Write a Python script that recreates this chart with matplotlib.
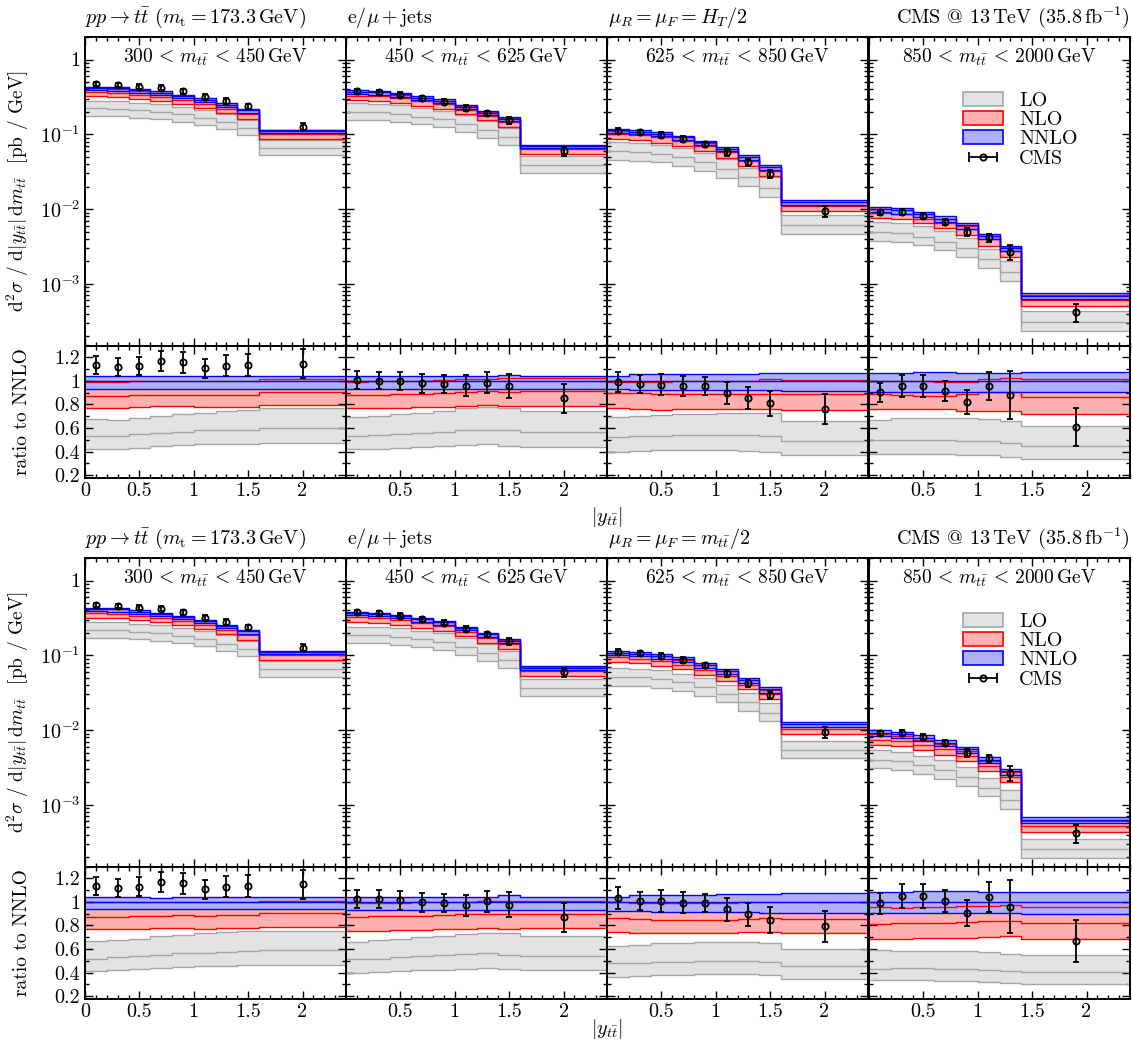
import numpy as np
import matplotlib

matplotlib.use("Agg")
import matplotlib.pyplot as plt
from matplotlib.lines import Line2D
from matplotlib.patches import Patch
from matplotlib.legend_handler import HandlerLine2D, HandlerTuple
from matplotlib.ticker import FixedLocator, MultipleLocator, LogLocator, NullFormatter, FuncFormatter

plt.rcParams.update({
    "font.family": "serif",
    "font.serif": ["cmr10", "DejaVu Serif"],
    "mathtext.fontset": "cm",
    "axes.formatter.use_mathtext": True,
    "font.size": 14.5,
    "axes.unicode_minus": False,
})
FS = 14.5

# ---- binning / data -------------------------------------------------------
EDGES = [
    [0, 0.2, 0.4, 0.6, 0.8, 1.0, 1.2, 1.4, 1.6, 2.4],
    [0, 0.2, 0.4, 0.6, 0.8, 1.0, 1.2, 1.4, 1.6, 2.4],
    [0, 0.2, 0.4, 0.6, 0.8, 1.0, 1.2, 1.4, 1.6, 2.4],
    [0, 0.2, 0.4, 0.6, 0.8, 1.0, 1.2, 1.4, 2.4],
]
CMS_Y = [
    [0.1, 0.3, 0.5, 0.7, 0.9, 1.1, 1.3, 1.5, 2.0],
    [0.1, 0.3, 0.5, 0.7, 0.9, 1.1, 1.3, 1.5, 2.0],
    [0.1, 0.3, 0.5, 0.7, 0.9, 1.1, 1.3, 1.5, 2.0],
    [0.1, 0.3, 0.5, 0.7, 0.9, 1.1, 1.3, 1.9],
]
MTT_BINS = [(300, 450), (450, 625), (625, 850), (850, 2000)]

# CMS measurement [pb/GeV] and relative uncertainty
CMS_XSEC = [
    [0.473, 0.459, 0.435, 0.418, 0.376, 0.320, 0.280, 0.237, 0.127],
    [0.376, 0.365, 0.340, 0.303, 0.274, 0.225, 0.191, 0.153, 0.0592],
    [0.112, 0.106, 0.099, 0.0875, 0.0743, 0.0574, 0.0422, 0.0295, 0.00952],
    [0.00904, 0.00923, 0.00816, 0.00678, 0.00498, 0.00418, 0.00269, 0.000423],
]
CMS_RELERR = [
    [0.068, 0.068, 0.069, 0.075, 0.075, 0.072, 0.079, 0.080, 0.108],
    [0.074, 0.075, 0.078, 0.081, 0.080, 0.092, 0.089, 0.109, 0.144],
    [0.089, 0.076, 0.091, 0.089, 0.078, 0.105, 0.110, 0.130, 0.166],
    [0.091, 0.096, 0.096, 0.093, 0.122, 0.121, 0.235, 0.263],
]

# scale choice mu = H_T/2 : NNLO central [pb/GeV], bands as ratio to NNLO
HT_NNLO = [
    [0.417, 0.410, 0.386, 0.358, 0.325, 0.289, 0.248, 0.209, 0.111],
    [0.373, 0.364, 0.341, 0.309, 0.281, 0.235, 0.194, 0.160, 0.0693],
    [0.113, 0.109, 0.1024, 0.0913, 0.0777, 0.0642, 0.0493, 0.0365, 0.01253],
    [0.01002, 0.00966, 0.00854, 0.00743, 0.00606, 0.00437, 0.00306, 0.000695],
]
HT_NNLO_UP = [
    [1.043, 1.043, 1.044, 1.044, 1.043, 1.042, 1.043, 1.045, 1.040],
    [1.041, 1.040, 1.042, 1.041, 1.040, 1.040, 1.042, 1.050, 1.040],
    [1.041, 1.055, 1.055, 1.055, 1.055, 1.057, 1.057, 1.064, 1.069],
    [1.069, 1.069, 1.072, 1.077, 1.069, 1.064, 1.064, 1.072],
]
HT_NNLO_DN = [
    [0.933, 0.933, 0.935, 0.935, 0.933, 0.935, 0.935, 0.935, 0.930],
    [0.933, 0.933, 0.933, 0.933, 0.935, 0.935, 0.933, 0.930, 0.935],
    [0.928, 0.922, 0.922, 0.922, 0.922, 0.922, 0.922, 0.922, 0.913],
    [0.902, 0.902, 0.907, 0.907, 0.907, 0.907, 0.907, 0.902],
]
HT_NLO_UP = [
    [0.993, 0.993, 0.995, 0.998, 0.998, 1.000, 1.003, 1.003, 1.013],
    [0.993, 0.996, 0.998, 1.001, 1.007, 1.013, 1.018, 1.021, 1.021],
    [0.993, 0.993, 0.993, 0.996, 0.996, 1.001, 1.001, 1.013, 1.007],
    [1.001, 1.001, 1.001, 0.987, 0.987, 1.013, 1.021, 1.013],
]
HT_NLO = [
    [0.871, 0.871, 0.877, 0.880, 0.883, 0.880, 0.883, 0.883, 0.902],
    [0.879, 0.882, 0.885, 0.890, 0.896, 0.905, 0.911, 0.908, 0.913],
    [0.900, 0.895, 0.890, 0.890, 0.892, 0.890, 0.888, 0.890, 0.890],
    [0.888, 0.879, 0.871, 0.871, 0.888, 0.902, 0.902, 0.865],
]
HT_NLO_DN = [
    [0.771, 0.771, 0.777, 0.783, 0.783, 0.777, 0.780, 0.777, 0.791],
    [0.766, 0.769, 0.772, 0.777, 0.780, 0.786, 0.791, 0.789, 0.783],
    [0.766, 0.760, 0.755, 0.757, 0.760, 0.760, 0.763, 0.760, 0.752],
    [0.757, 0.760, 0.760, 0.757, 0.743, 0.743, 0.743, 0.723],
]
HT_LO_UP = [
    [0.675, 0.672, 0.686, 0.706, 0.717, 0.728, 0.743, 0.751, 0.766],
    [0.695, 0.701, 0.715, 0.729, 0.740, 0.766, 0.777, 0.766, 0.743],
    [0.695, 0.701, 0.709, 0.717, 0.720, 0.726, 0.728, 0.730, 0.660],
    [0.672, 0.681, 0.686, 0.681, 0.681, 0.675, 0.658, 0.615],
]
HT_LO = [
    [0.533, 0.528, 0.545, 0.558, 0.570, 0.579, 0.587, 0.587, 0.596],
    [0.530, 0.539, 0.547, 0.558, 0.567, 0.579, 0.587, 0.579, 0.562],
    [0.525, 0.530, 0.533, 0.539, 0.542, 0.542, 0.539, 0.530, 0.486],
    [0.496, 0.496, 0.502, 0.496, 0.491, 0.488, 0.473, 0.448],
]
HT_LO_DN = [
    [0.422, 0.422, 0.434, 0.445, 0.454, 0.462, 0.468, 0.468, 0.473],
    [0.420, 0.425, 0.434, 0.439, 0.445, 0.454, 0.460, 0.451, 0.439],
    [0.397, 0.406, 0.411, 0.417, 0.417, 0.411, 0.409, 0.397, 0.369],
    [0.377, 0.377, 0.383, 0.377, 0.374, 0.369, 0.354, 0.340],
]

# scale choice mu = m_tt/2
MT_NNLO = [
    [0.417, 0.411, 0.385, 0.358, 0.325, 0.289, 0.248, 0.209, 0.1105],
    [0.367, 0.356, 0.336, 0.304, 0.277, 0.232, 0.190, 0.157, 0.0682],
    [0.1087, 0.105, 0.0983, 0.0882, 0.0749, 0.0613, 0.0471, 0.0349, 0.0120],
    [0.00916, 0.00880, 0.00778, 0.00675, 0.00552, 0.00401, 0.00281, 0.000632],
]
MT_NNLO_UP = [
    [1.038, 1.038, 1.038, 1.035, 1.038, 1.040, 1.040, 1.040, 1.038],
    [1.045, 1.045, 1.045, 1.045, 1.045, 1.045, 1.045, 1.055, 1.045],
    [1.043, 1.055, 1.060, 1.060, 1.060, 1.065, 1.065, 1.070, 1.072],
    [1.086, 1.086, 1.091, 1.091, 1.091, 1.086, 1.086, 1.086],
]
MT_NNLO_DN = [
    [0.936, 0.936, 0.936, 0.936, 0.936, 0.936, 0.936, 0.936, 0.936],
    [0.930, 0.930, 0.930, 0.930, 0.930, 0.930, 0.930, 0.930, 0.930],
    [0.924, 0.920, 0.918, 0.915, 0.913, 0.910, 0.910, 0.908, 0.907],
    [0.902, 0.902, 0.905, 0.905, 0.905, 0.905, 0.902, 0.896],
]
MT_NLO_UP = [
    [0.998, 0.998, 0.998, 1.000, 1.000, 1.002, 1.002, 1.002, 1.010],
    [0.987, 0.990, 0.993, 0.996, 1.000, 1.003, 1.008, 1.010, 1.010],
    [0.995, 0.993, 0.990, 0.990, 0.993, 0.993, 0.995, 0.998, 0.998],
    [0.958, 0.950, 0.958, 0.958, 0.964, 0.964, 0.973, 0.958],
]
MT_NLO = [
    [0.873, 0.873, 0.880, 0.883, 0.886, 0.883, 0.886, 0.886, 0.902],
    [0.873, 0.876, 0.879, 0.883, 0.886, 0.893, 0.898, 0.893, 0.900],
    [0.860, 0.855, 0.845, 0.848, 0.850, 0.850, 0.855, 0.860, 0.855],
    [0.811, 0.817, 0.822, 0.822, 0.828, 0.837, 0.840, 0.822],
]
MT_NLO_DN = [
    [0.766, 0.766, 0.770, 0.775, 0.775, 0.773, 0.778, 0.775, 0.788],
    [0.754, 0.756, 0.760, 0.765, 0.768, 0.772, 0.776, 0.772, 0.774],
    [0.746, 0.740, 0.732, 0.735, 0.738, 0.738, 0.742, 0.746, 0.740],
    [0.689, 0.689, 0.694, 0.694, 0.697, 0.703, 0.709, 0.689],
]
MT_LO_UP = [
    [0.666, 0.675, 0.689, 0.709, 0.717, 0.732, 0.746, 0.752, 0.754],
    [0.660, 0.675, 0.689, 0.698, 0.709, 0.726, 0.737, 0.732, 0.709],
    [0.624, 0.632, 0.647, 0.647, 0.660, 0.660, 0.660, 0.652, 0.604],
    [0.590, 0.584, 0.584, 0.584, 0.584, 0.575, 0.556, 0.547],
]
MT_LO = [
    [0.519, 0.528, 0.539, 0.553, 0.562, 0.567, 0.575, 0.584, 0.590],
    [0.511, 0.519, 0.528, 0.539, 0.547, 0.556, 0.562, 0.553, 0.539],
    [0.477, 0.483, 0.491, 0.491, 0.499, 0.499, 0.499, 0.491, 0.454],
    [0.434, 0.439, 0.442, 0.434, 0.434, 0.425, 0.414, 0.405],
]
MT_LO_DN = [
    [0.411, 0.419, 0.428, 0.439, 0.448, 0.454, 0.460, 0.463, 0.468],
    [0.397, 0.405, 0.411, 0.419, 0.425, 0.434, 0.442, 0.434, 0.419],
    [0.363, 0.369, 0.377, 0.377, 0.386, 0.386, 0.386, 0.377, 0.348],
    [0.335, 0.335, 0.335, 0.329, 0.329, 0.323, 0.312, 0.306],
]

SCALES = [
    (r"$\mu_R = \mu_F = H_T/2$", HT_NNLO, HT_NNLO_UP, HT_NNLO_DN, HT_NLO_UP, HT_NLO,
     HT_NLO_DN, HT_LO_UP, HT_LO, HT_LO_DN),
    (r"$\mu_R = \mu_F = m_{t\bar{t}}/2$", MT_NNLO, MT_NNLO_UP, MT_NNLO_DN, MT_NLO_UP, MT_NLO,
     MT_NLO_DN, MT_LO_UP, MT_LO, MT_LO_DN),
]

LO_FILL, LO_LINE = "#e3e3e3", "#a6a6a6"
NLO_FILL, NLO_LINE = "#ffb0b0", "red"
NNLO_FILL, NNLO_LINE = "#b0b0f8", "blue"


def ext(v):
    v = np.asarray(v, dtype=float)
    return np.append(v, v[-1])


def draw_bands(ax, edges, bands):
    # fills first, then all the edge lines on top
    for lo, mid, hi, fill, line in bands:
        ax.fill_between(edges, ext(lo), ext(hi), step="post", facecolor=fill, lw=0)
    for lo, mid, hi, fill, line in bands:
        for v in (lo, mid, hi):
            ax.step(edges, ext(v), where="post", color=line, lw=1.0)


def style(ax):
    ax.tick_params(which="both", direction="in", top=True, right=True, width=1.0)
    ax.tick_params(which="major", length=6, labelsize=FS)
    ax.tick_params(which="minor", length=3)
    for s in ax.spines.values():
        s.set_linewidth(1.4)


W, H = 1132, 1043
fig = plt.figure(figsize=(W / 100, H / 100), dpi=100)

col_x = [85, 346, 607, 869]
col_w = 261
blocks_top = [37, 558]
xlabel_y = [517, 1029]

for b, (scale_txt, nnlo, nnlo_up, nnlo_dn, nlo_up, nlo, nlo_dn, lo_up, lo, lo_dn) in enumerate(SCALES):
    y0 = blocks_top[b]
    for c in range(4):
        edges = np.array(EDGES[c], dtype=float)
        central = np.array(nnlo[c])
        ax = fig.add_axes([col_x[c] / W, 1 - (y0 + 308.5) / H, col_w / W, 308.5 / H])
        axr = fig.add_axes([col_x[c] / W, 1 - (y0 + 440.5) / H, col_w / W, 132 / H])

        ratio_bands = [
            (lo_dn[c], lo[c], lo_up[c], LO_FILL, LO_LINE),
            (nlo_dn[c], nlo[c], nlo_up[c], NLO_FILL, NLO_LINE),
            (nnlo_dn[c], np.ones(len(central)), nnlo_up[c], NNLO_FILL, NNLO_LINE),
        ]
        abs_bands = [(np.array(l) * central, np.array(m) * central, np.array(h) * central, f, ln)
                     for l, m, h, f, ln in ratio_bands]

        # upper panel: absolute cross sections
        draw_bands(ax, edges, abs_bands)
        data = np.array(CMS_XSEC[c])
        err = data * np.array(CMS_RELERR[c])
        ax.errorbar(CMS_Y[c], data, yerr=err, fmt="o", ms=4.5, mfc="none", mec="black",
                    mew=1.3, color="black", elinewidth=1.3, capsize=2.2, capthick=1.3, zorder=5)

        # lower panel: ratio to NNLO
        draw_bands(axr, edges, ratio_bands)
        axr.errorbar(CMS_Y[c], data / central, yerr=err / central, fmt="o", ms=4.5, mfc="none",
                     mec="black", mew=1.3, color="black", elinewidth=1.3, capsize=2.2,
                     capthick=1.3, zorder=5)

        ax.set_yscale("log")
        ax.set_ylim(1.5e-4, 2)
        ax.set_xlim(0, 2.4)
        ax.yaxis.set_major_locator(FixedLocator([1e-3, 1e-2, 1e-1, 1]))
        ax.yaxis.set_minor_locator(LogLocator(base=10, subs=np.arange(2, 10), numticks=20))
        ax.yaxis.set_minor_formatter(NullFormatter())
        ax.xaxis.set_major_locator(MultipleLocator(0.5))
        ax.xaxis.set_minor_locator(MultipleLocator(0.1))
        ax.set_xticklabels([])
        axr.set_xlim(0, 2.4)
        axr.set_ylim(0.18, 1.3)
        axr.yaxis.set_major_locator(MultipleLocator(0.2))
        axr.yaxis.set_minor_locator(MultipleLocator(0.1))
        axr.xaxis.set_major_locator(FixedLocator([0, 0.5, 1, 1.5, 2] if c == 0 else [0.5, 1, 1.5, 2]))
        axr.xaxis.set_minor_locator(MultipleLocator(0.1))
        axr.xaxis.set_major_formatter(FuncFormatter(lambda v, p: f"{v:g}"))
        style(ax)
        style(axr)

        if c == 0:
            ax.yaxis.set_major_formatter(FuncFormatter(
                lambda v, p: "1" if v == 1 else r"$10^{%d}$" % round(np.log10(v))))
            axr.yaxis.set_major_formatter(FuncFormatter(lambda v, p: f"{v:g}"))
            ax.set_ylabel(r"$\mathrm{d}^2\sigma\ /\ \mathrm{d}|y_{t\bar{t}}|\,\mathrm{d}m_{t\bar{t}}$"
                          r"  [pb / GeV]", fontsize=14)
            axr.set_ylabel("ratio to NNLO", fontsize=14)
            ax.yaxis.set_label_coords(-0.205, 0.5)
            axr.yaxis.set_label_coords(-0.205, 0.5)
        else:
            ax.set_yticklabels([])
            axr.set_yticklabels([])

        lo_m, hi_m = MTT_BINS[c]
        ax.text(0.5, 0.935, r"$%d\, < \,m_{t\bar{t}}\, < \,%d\,\mathrm{GeV}$" % (lo_m, hi_m),
                transform=ax.transAxes, ha="center", va="center", fontsize=14)

        if c == 0:
            ax.text(0.0, 1.022, r"$pp \to t\bar{t}$ ($m_\mathrm{t} = 173.3\,$GeV)",
                    transform=ax.transAxes, ha="left", va="bottom", fontsize=FS)
        elif c == 1:
            ax.text(0.005, 1.022, r"$\mathrm{e}/\mu + \mathrm{jets}$",
                    transform=ax.transAxes, ha="left", va="bottom", fontsize=FS)
        elif c == 2:
            ax.text(0.005, 1.022, scale_txt,
                    transform=ax.transAxes, ha="left", va="bottom", fontsize=FS)
        else:
            ax.text(1.0, 1.022, r"CMS @ 13$\,$TeV (35.8$\,$fb$^{-1}$)",
                    transform=ax.transAxes, ha="right", va="bottom", fontsize=FS)
            caps = Line2D([], [], color="black", lw=1.3, marker="|", ms=7, mew=1.3)
            dot = Line2D([], [], color="none", marker="o", ms=4.5, mfc="none", mec="black", mew=1.3)
            handles = [Patch(facecolor=LO_FILL, edgecolor=LO_LINE, lw=1.2),
                       Patch(facecolor=NLO_FILL, edgecolor=NLO_LINE, lw=1.2),
                       Patch(facecolor=NNLO_FILL, edgecolor=NNLO_LINE, lw=1.2),
                       (caps, dot)]
            ax.legend(handles, ["LO", "NLO", "NNLO", "CMS"], loc="upper left",
                      bbox_to_anchor=(0.29, 0.88), frameon=False, fontsize=FS,
                      handlelength=2.0, labelspacing=0.05, handletextpad=0.8,
                      handler_map={caps: HandlerLine2D(numpoints=2),
                                   dot: HandlerLine2D(numpoints=1),
                                   tuple: HandlerTuple(ndivide=1, pad=0)})

    fig.text(607.5 / W, 1 - xlabel_y[b] / H, r"$|y_{t\bar{t}}|$", ha="center", va="center",
             fontsize=FS)

fig.savefig("out.png", dpi=100)
